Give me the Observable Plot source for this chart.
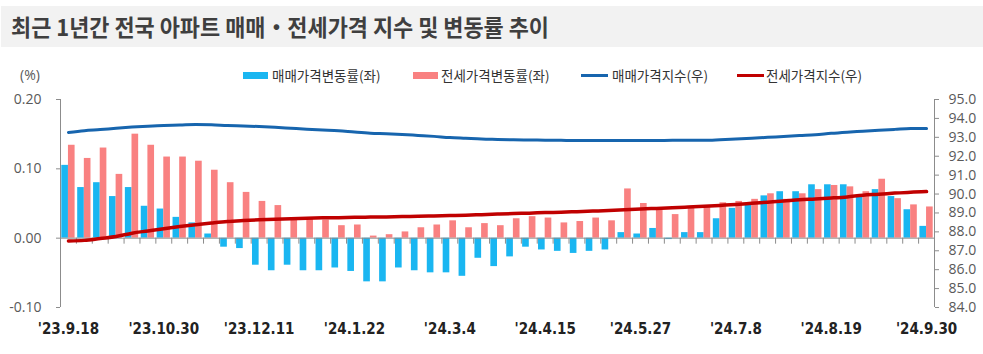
<!DOCTYPE html>
<html><head><meta charset="utf-8">
<script src="https://cdn.jsdelivr.net/npm/d3@7"></script>
<script src="https://cdn.jsdelivr.net/npm/@observablehq/plot@0.6"></script>
<style>
body{margin:0;background:#fff;font-family:"Noto Sans CJK KR",sans-serif;}
#wrap{position:relative;width:983px;height:354px;overflow:hidden;background:#fff}
#head{position:relative;height:88px}
#titlebar{position:absolute;left:1px;top:6px;width:982px;height:41px;background:#f2f2f2}
#title{position:absolute;left:10px;top:0;line-height:41px;font-weight:700;font-size:23px;color:#3f3f3f;white-space:nowrap;transform-origin:0 50%}
.lt{position:absolute;top:66px;line-height:18px;font-size:13.5px;color:#333;white-space:nowrap}
.sw{position:absolute}
#unit{position:absolute;left:20px;top:65px;font-size:14px;line-height:20px;color:#595959;font-family:"Open Sans",sans-serif}
svg{display:block}
</style></head>
<body>
<div id="wrap">
 <div id="head">
  <div id="titlebar"><div id="title">최근 1년간 전국 아파트 매매・전세가격 지수 및 변동률 추이</div></div>
  <div id="unit">(%)</div>
  <div id="legend"></div>
 </div>
 <div id="chart"></div>
</div>
<script>
const weeks = ["'23.9.18","'23.9.25","'23.10.2","'23.10.9","'23.10.16","'23.10.23","'23.10.30","'23.11.6","'23.11.13","'23.11.20","'23.11.27","'23.12.4","'23.12.11","'23.12.18","'23.12.25",
"'24.1.1","'24.1.8","'24.1.15","'24.1.22","'24.1.29","'24.2.5","'24.2.12","'24.2.19","'24.2.26","'24.3.4","'24.3.11","'24.3.18","'24.3.25","'24.4.1","'24.4.8","'24.4.15","'24.4.22","'24.4.29","'24.5.6","'24.5.13","'24.5.20","'24.5.27","'24.6.3","'24.6.10","'24.6.17","'24.6.24","'24.7.1","'24.7.8","'24.7.15","'24.7.22","'24.7.29","'24.8.5","'24.8.12","'24.8.19","'24.8.26","'24.9.2","'24.9.9","'24.9.16","'24.9.23","'24.9.30"];
const tickWeeks = ["'23.9.18","'23.10.30","'23.12.11","'24.1.22","'24.3.4","'24.4.15","'24.5.27","'24.7.8","'24.8.19","'24.9.30"];
// 매매가격변동률(좌), %
const saleChange = [0.105,0.073,0.080,0.060,0.073,0.046,0.042,0.030,0.022,0.006,
-0.013,-0.015,-0.039,-0.047,-0.039,-0.047,-0.047,-0.043,-0.048,-0.063,
-0.063,-0.043,-0.047,-0.050,-0.050,-0.055,-0.029,-0.041,-0.027,-0.013,
-0.017,-0.019,-0.022,-0.019,-0.017,0.008,0.006,0.014,-0.002,0.008,
0.008,0.028,0.043,0.048,0.061,0.067,0.067,0.077,0.077,0.077,
0.059,0.070,0.060,0.041,0.017];
// 전세가격변동률(좌), %
const jeonseChange = [0.134,0.115,0.130,0.092,0.150,0.134,0.117,0.117,0.111,0.098,
0.080,0.066,0.053,0.047,0.028,0.028,0.026,0.018,0.019,0.003,
0.005,0.009,0.015,0.019,0.025,0.015,0.021,0.018,0.028,0.031,
0.029,0.022,0.024,0.029,0.025,0.071,0.050,0.043,0.034,0.043,
0.046,0.051,0.053,0.056,0.064,0.056,0.064,0.070,0.076,0.074,
0.067,0.085,0.057,0.048,0.045];
// 매매가격지수(우)
const saleIndex = [93.26,93.35,93.41,93.48,93.54,93.59,93.63,93.65,93.68,93.67,
93.62,93.60,93.57,93.53,93.48,93.43,93.39,93.35,93.28,93.22,
93.19,93.15,93.10,93.05,92.99,92.95,92.91,92.89,92.87,92.86,
92.85,92.84,92.83,92.83,92.83,92.83,92.83,92.83,92.84,92.84,
92.84,92.87,92.91,92.95,93.00,93.04,93.09,93.13,93.21,93.27,
93.32,93.37,93.42,93.47,93.47];
// 전세가격지수(우)
const jeonseIndex = [87.52,87.55,87.65,87.75,87.93,88.05,88.17,88.28,88.38,88.47,
88.55,88.60,88.64,88.67,88.69,88.72,88.74,88.75,88.77,88.78,
88.79,88.81,88.82,88.84,88.86,88.88,88.91,88.94,88.97,88.99,
89.02,89.04,89.07,89.10,89.13,89.17,89.21,89.24,89.27,89.31,
89.35,89.40,89.45,89.51,89.57,89.63,89.70,89.74,89.79,89.85,
89.94,89.99,90.05,90.10,90.13];
const leftTicks = [-0.1, 0, 0.1, 0.2];
const rightTicks = [84,85,86,87,88,89,90,91,92,93,94,95];
const legendItems = [
 {label:"매매가격변동률(좌)", color:"#1ab6f1", kind:"bar"},
 {label:"전세가격변동률(좌)", color:"#f98181", kind:"bar"},
 {label:"매매가격지수(우)", color:"#1765ae", kind:"line"},
 {label:"전세가격지수(우)", color:"#c00000", kind:"line"}
];

const C = {blueBar:"#1ab6f1", redBar:"#f98181", blueLine:"#1765ae", redLine:"#c00000", axis:"#8c8c8c", tick:"#595959"};

// title fit
const t = document.getElementById("title");
const tw = t.getBoundingClientRect().width;
t.style.transform = `scaleX(${538/tw})`;

// legend
const legPos = [[243,272],[413,441],[581,612],[737,766]];
const leg = document.getElementById("legend");
legendItems.forEach((d,i)=>{
  const s = document.createElement("div");
  s.className="sw";
  s.style.left = legPos[i][0]+"px";
  s.style.width = (d.kind==="bar"?25:27)+"px";
  s.style.top = (d.kind==="bar"?72:74)+"px";
  s.style.height = (d.kind==="bar"?7:3)+"px";
  s.style.background = d.color;
  leg.appendChild(s);
  const l = document.createElement("div");
  l.className="lt"; l.style.left = legPos[i][1]+"px"; l.textContent = d.label;
  leg.appendChild(l);
});

const rows = weeks.map((w,i)=>({week:w, sale:saleChange[i], jeonse:jeonseChange[i], saleIdx:saleIndex[i], jeonseIdx:jeonseIndex[i]}));
const mL = 60, mR = 49, W = 983;
const bw = (W - mL - mR) / weeks.length;
const toLeft = d3.scaleLinear().domain([84,95]).range([-0.1,0.2]);

const chart = Plot.plot({
  width: W, height: 266,
  marginTop: 11, marginBottom: 47, marginLeft: mL, marginRight: mR,
  style: {fontFamily:"'Open Sans', sans-serif", background:"#fff", overflow:"visible"},
  x: {type:"band", domain: weeks, padding: 0, axis: null},
  y: {domain: [-0.1, 0.2], axis: null},
  marks: [
    Plot.barY(rows, {x:"week", y:"sale", fill:C.blueBar, insetLeft:1.3, insetRight:bw/2}),
    Plot.barY(rows, {x:"week", y:"jeonse", fill:C.redBar, insetLeft:bw/2, insetRight:1.3}),
    Plot.ruleY([0], {stroke:C.axis, strokeWidth:1}),
    Plot.ruleX(rows, {x:"week", y1:0, y2:0, insetBottom:-6, dx:-bw/2, stroke:C.axis}),
    Plot.ruleX([weeks[weeks.length-1]], {x:d=>d, y1:0, y2:0, insetBottom:-6, dx:bw/2, stroke:C.axis}),
    Plot.ruleX([weeks[0]], {x:d=>d, dx:-bw/2, stroke:C.axis}),
    Plot.ruleX([weeks[weeks.length-1]], {x:d=>d, dx:bw/2, stroke:C.axis}),
    Plot.axisY(leftTicks, {anchor:"left", tickSize:4, tickPadding:15, tickFormat:d=>d.toFixed(2), fontSize:14, fill:C.tick, stroke:C.axis, label:null}),
    Plot.axisY(rightTicks, {anchor:"right", y:toLeft, tickSize:4, tickPadding:10, tickFormat:d=>d.toFixed(1), fontSize:14, fill:C.tick, stroke:C.axis, label:null}),
    Plot.lineY(rows, {x:"week", y:d=>toLeft(d.saleIdx), stroke:C.blueLine, strokeWidth:3, curve:"monotone-x"}),
    Plot.lineY(rows, {x:"week", y:d=>toLeft(d.jeonseIdx), stroke:C.redLine, strokeWidth:3.5, curve:"monotone-x"}),
    Plot.axisX(tickWeeks, {anchor:"bottom", tickSize:0, tickPadding:16, fontSize:15, fontWeight:"bold", fill:"#222", fontFamily:"'DejaVu Sans Condensed', 'DejaVu Sans', sans-serif", label:null})
  ]
});
document.getElementById("chart").appendChild(chart);
</script>
</body></html>
